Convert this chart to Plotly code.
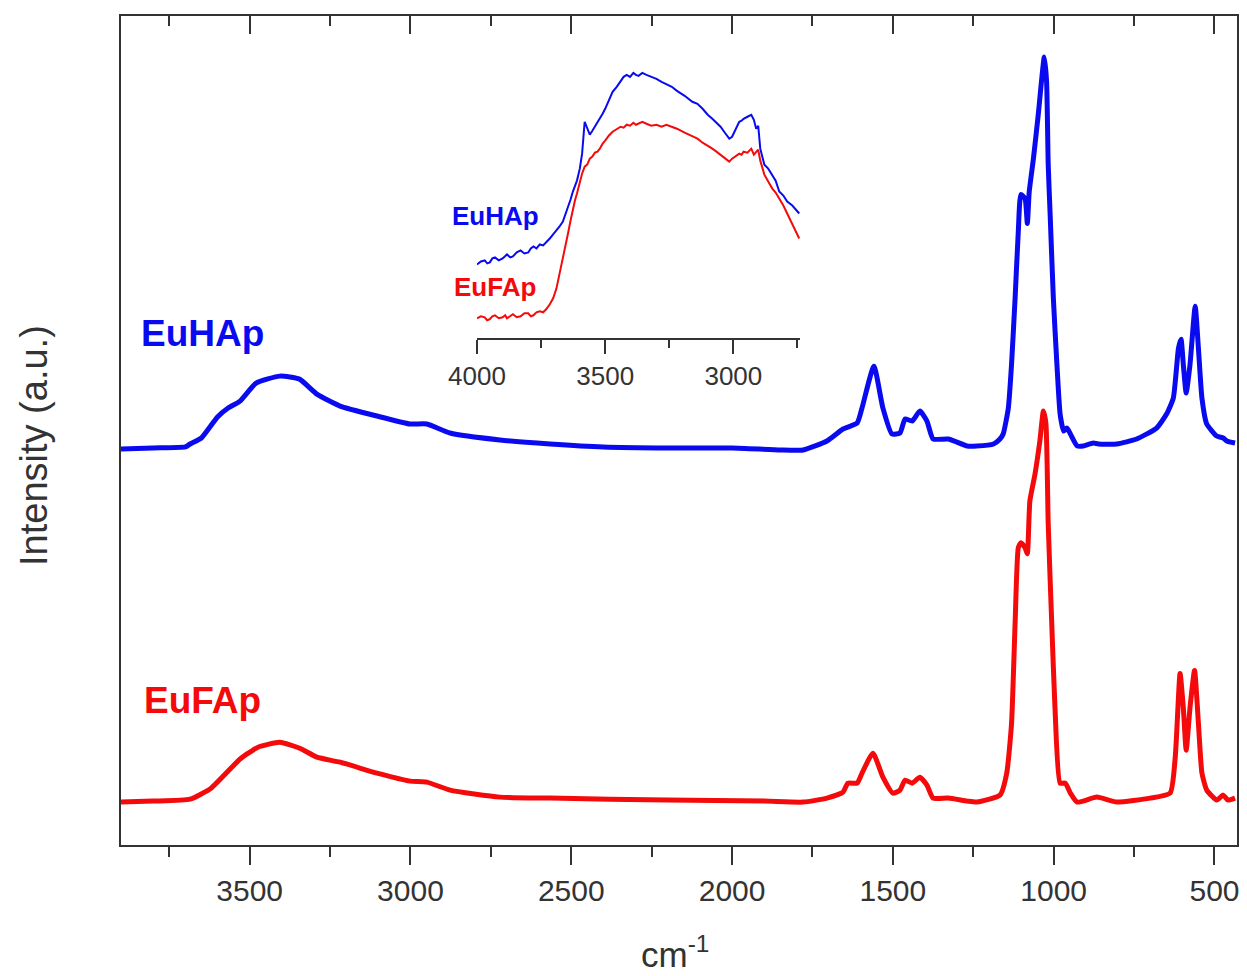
import plotly.graph_objects as go

# ---- main spectra (wavenumber cm-1, intensity a.u.) ----
wn_hap = [3900, 3800, 3700, 3685, 3650, 3600, 3567, 3530, 3480, 3406, 3345, 3291, 3219, 3104, 3001, 2949,
          2877, 2722, 2566, 2400, 2200, 2000, 1850, 1779, 1705, 1655, 1611, 1596, 1559, 1531, 1503, 1478,
          1462, 1440, 1416, 1394, 1375, 1328, 1269, 1239, 1187, 1167, 1157, 1141, 1131, 1120, 1110, 1102,
          1089, 1082, 1076, 1063, 1048, 1029, 1022, 1017, 1011, 1001, 990, 980, 969, 959, 948, 927, 908,
          877, 861, 804, 742, 680, 649, 628, 612, 604, 597, 588, 576, 560, 550, 539, 524, 493, 473, 462, 436]
int_hap = [397, 398, 399, 402, 408, 429, 438, 445, 463, 470, 467, 452, 440, 430, 422, 422,
           413, 406, 402, 399, 398, 398, 396, 396, 405, 417, 423, 438, 480, 438, 412, 413,
           427, 425, 435, 425, 407, 407, 400, 400, 402, 407, 412, 438, 482, 548, 615, 652,
           648, 623, 655, 688, 732, 790, 765, 682, 632, 548, 482, 432, 415, 418, 412, 400, 400,
           403, 402, 402, 407, 418, 432, 448, 498, 507, 482, 453, 482, 540, 498, 448, 422, 410, 408, 405, 403]

wn_fap = [3900, 3800, 3685, 3620, 3527, 3474, 3406, 3344, 3291, 3219, 3104, 3001, 2949, 2877, 2722, 2566,
          2200, 1900, 1779, 1705, 1655, 1640, 1611, 1596, 1562, 1531, 1500, 1478, 1462, 1440, 1416, 1394,
          1375, 1328, 1269, 1239, 1167, 1146, 1131, 1120, 1110, 1102, 1089, 1082, 1074, 1058, 1043, 1032,
          1024, 1017, 1006, 996, 980, 964, 948, 927, 866, 804, 700, 638, 622, 607, 597, 588, 576, 562,
          550, 539, 524, 493, 473, 458, 436]
int_fap = [43, 44, 46, 57, 87, 98, 103, 97, 88, 83, 72, 64, 63, 55, 48, 47,
           45, 44, 43, 47, 53, 62, 62, 72, 92, 68, 52, 55, 65, 62, 68, 60,
           47, 47, 44, 43, 50, 72, 122, 222, 298, 303, 298, 292, 345, 372, 405, 435,
           422, 322, 222, 138, 62, 62, 52, 43, 48, 43, 47, 52, 88, 172, 138, 95, 138, 175,
           122, 72, 55, 45, 50, 45, 47]

# ---- inset (high wavenumber region) ----
wn_inset = [4000, 3985, 3970, 3960, 3950, 3940, 3930, 3915, 3900, 3890, 3883, 3870, 3860, 3845, 3830,
            3815, 3800, 3790, 3780, 3768, 3755, 3742, 3730, 3716, 3703, 3690, 3678, 3665, 3655, 3645,
            3635, 3626, 3618, 3610, 3599, 3590, 3580, 3570, 3560, 3550, 3540, 3530, 3521, 3510, 3500,
            3486, 3471, 3455, 3440, 3428, 3416, 3403, 3390, 3380, 3370, 3355, 3339, 3320, 3300, 3280,
            3261, 3240, 3220, 3190, 3160, 3140, 3120, 3100, 3082, 3066, 3050, 3033, 3016, 3005, 2995,
            2985, 2977, 2968, 2960, 2945, 2930, 2920, 2911, 2903, 2895, 2887, 2879, 2864, 2848, 2835,
            2821, 2805, 2790, 2770, 2743]
ins_hap = [74, 77, 78, 75, 76, 80, 81, 78, 80, 83, 84, 81, 82, 86, 88,
           85, 86, 90, 92, 90, 94, 93, 96, 100, 104, 108, 112, 117, 124, 130,
           139, 147, 152, 158, 170, 185, 217, 210, 204, 208, 212, 216, 220, 225, 230,
           238, 247, 252, 258, 262, 264, 262, 266, 264, 263, 266, 264, 262, 260, 257,
           255, 252, 248, 243, 237, 235, 230, 224, 220, 216, 212, 206, 200, 202, 207,
           213, 217, 218, 220, 222, 224, 219, 210, 213, 190, 182, 174, 170, 164, 158,
           147, 143, 137, 133, 125]
ins_fap = [20, 22, 21, 18, 19, 22, 23, 20, 21, 23, 20, 22, 24, 21, 22,
           25, 25, 22, 23, 26, 27, 26, 29, 34, 40, 50, 64, 80, 93, 105,
           118, 130, 138, 145, 157, 165, 172, 174, 180, 182, 186, 187, 190, 195, 198,
           203, 207, 210, 212, 211, 214, 213, 216, 214, 215, 217, 215, 213, 214, 212,
           214, 212, 210, 206, 202, 200, 196, 193, 190, 187, 184, 180, 177, 180, 182,
           184, 185, 184, 187, 186, 190, 184, 187, 189, 178, 171, 164, 157, 150, 146,
           140, 133, 125, 115, 100]

main_ticks = [3500, 3000, 2500, 2000, 1500, 1000, 500]
inset_ticks = [4000, 3500, 3000]

BLUE = "#0a0af0"
RED = "#f40a0a"
AX = "#333333"
FONT = "Liberation Sans, Arial, sans-serif"

fig = go.Figure()
fig.add_trace(go.Scatter(x=wn_hap, y=int_hap, mode="lines",
                         line=dict(color=BLUE, width=5, shape="spline", smoothing=0.5),
                         showlegend=False, xaxis="x", yaxis="y"))
fig.add_trace(go.Scatter(x=wn_fap, y=int_fap, mode="lines",
                         line=dict(color=RED, width=5, shape="spline", smoothing=0.5),
                         showlegend=False, xaxis="x", yaxis="y"))
fig.add_trace(go.Scatter(x=wn_inset, y=ins_hap, mode="lines", line=dict(color=BLUE, width=2),
                         showlegend=False, xaxis="x2", yaxis="y2"))
fig.add_trace(go.Scatter(x=wn_inset, y=ins_fap, mode="lines", line=dict(color=RED, width=2),
                         showlegend=False, xaxis="x2", yaxis="y2"))
# invisible trace so the top mirrored-tick axis is drawn
fig.add_trace(go.Scatter(x=[3900], y=[0], mode="markers", marker=dict(opacity=0), showlegend=False,
                         hoverinfo="skip", xaxis="x3", yaxis="y"))

OFF = 8  # page body margin in the browser
W, H = 1247 - OFF, 976 - OFF
L, T = 121 - OFF, 14 - OFF
plot_right, plot_bottom = 1237 - OFF, 845 - OFF
R, B = W - plot_right, H - plot_bottom
pw, ph = plot_right - L, plot_bottom - T


def px(xp):
    return (xp - OFF - L) / pw


def py(yp):
    return (plot_bottom - (yp - OFF)) / ph


fig.update_layout(
    width=W, height=H,
    margin=dict(l=L, r=R, t=T, b=B),
    paper_bgcolor="white", plot_bgcolor="white",
    font=dict(family=FONT, color="#333333"),
    xaxis=dict(range=[3900, 430], showgrid=False, zeroline=False, showline=True, linecolor=AX,
               linewidth=2, mirror=True, ticks="outside", ticklen=18, tickwidth=2, tickcolor=AX,
               tickvals=main_ticks, ticktext=[str(v) for v in main_ticks],
               tickfont=dict(size=30, color="#333333"),
               minor=dict(dtick=250, tick0=0, ticks="outside", ticklen=10, tickwidth=2, tickcolor=AX)),
    yaxis=dict(range=[0, 831], showgrid=False, zeroline=False, showline=True, linecolor=AX,
               linewidth=2, mirror=True, ticks="", showticklabels=False),
    xaxis3=dict(range=[3900, 430], overlaying="x", side="top", anchor="y", showgrid=False,
                zeroline=False, showline=False, ticks="inside", ticklen=18, tickwidth=2, tickcolor=AX,
                tickvals=main_ticks, showticklabels=False,
                minor=dict(dtick=250, tick0=0, ticks="inside", ticklen=10, tickwidth=2, tickcolor=AX)),
    xaxis2=dict(domain=[px(477), px(800)], anchor="y2", range=[4000, 2740], showgrid=False,
                zeroline=False, showline=True, linecolor=AX, linewidth=2, ticks="outside",
                ticklen=14, tickwidth=2, tickcolor=AX, tickvals=inset_ticks,
                ticktext=[str(v) for v in inset_ticks], tickfont=dict(size=26, color="#333333"),
                minor=dict(dtick=250, tick0=0, ticks="outside", ticklen=8, tickwidth=2, tickcolor=AX)),
    yaxis2=dict(domain=[py(337), py(60)], anchor="x2", range=[0, 277], visible=False),
)

ann = [
    dict(text="<b>EuHAp</b>", x=px(202), y=py(332), font=dict(size=37, color=BLUE)),
    dict(text="<b>EuFAp</b>", x=px(202), y=py(700), font=dict(size=37, color=RED)),
    dict(text="<b>EuHAp</b>", x=px(495), y=py(214), font=dict(size=26, color=BLUE)),
    dict(text="<b>EuFAp</b>", x=px(495), y=py(286), font=dict(size=26, color=RED)),
    dict(text="Intensity (a.u.)", x=px(34), y=py(445), textangle=-90, font=dict(size=38, color="#333333")),
    dict(text="cm<sup>-1</sup>", x=px(675), y=py(952), font=dict(size=35, color="#333333")),
]
for a in ann:
    a.update(xref="paper", yref="paper", showarrow=False, xanchor="center", yanchor="middle")
fig.update_layout(annotations=ann)

fig.write_html("out.html")
